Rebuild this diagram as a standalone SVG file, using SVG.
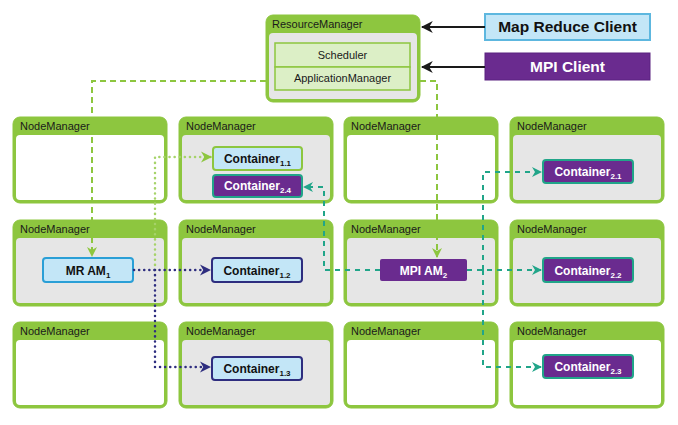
<svg xmlns="http://www.w3.org/2000/svg" width="678" height="425" viewBox="0 0 678 425">
<style>
.nm-frame{fill:#8dc63f;stroke:#8dc63f;stroke-width:1}
.body-w{fill:#ffffff}
.body-g{fill:#e6e6e6}
.title{font-family:"Liberation Sans",Arial,sans-serif;font-size:11px;fill:#1a1a1a}
.rmin{fill:#dcefc6;stroke:#8dc63f;stroke-width:1.5}
.rmtxt{font-family:"Liberation Sans",Arial,sans-serif;font-size:11px;fill:#1a1a1a;text-anchor:middle}
.ctxt{font-family:"Liberation Sans",Arial,sans-serif;font-size:12px;font-weight:bold;text-anchor:middle}
.blue{fill:#c3e6f7}
.purple{fill:#6a2b8f}
.client{font-family:"Liberation Sans",Arial,sans-serif;font-size:15.5px;font-weight:bold;text-anchor:middle}
.gdash{fill:none;stroke:#8dc63f;stroke-width:2;stroke-dasharray:6 4}
.gdot{fill:none;stroke:#a6d36a;stroke-width:2.5;stroke-dasharray:0.1 5;stroke-linecap:round}
.ndot{fill:none;stroke:#2e2d7f;stroke-width:2.5;stroke-dasharray:0.1 5;stroke-linecap:round}
.tdash{fill:none;stroke:#21a589;stroke-width:2;stroke-dasharray:5 5}
.black{fill:none;stroke:#1a1a1a;stroke-width:2}
</style>
<defs>
<marker id="mg" viewBox="0 0 10 10" refX="9" refY="5" markerWidth="5" markerHeight="5" orient="auto" markerUnits="strokeWidth"><path d="M0,0 L10,5 L0,10 L3,5 z" fill="#8dc63f"/></marker>
<marker id="mgl" viewBox="0 0 10 10" refX="9" refY="5" markerWidth="4.5" markerHeight="4.5" orient="auto" markerUnits="strokeWidth"><path d="M0,0 L10,5 L0,10 L3,5 z" fill="#8dc63f"/></marker>
<marker id="mn" viewBox="0 0 10 10" refX="9" refY="5" markerWidth="4.5" markerHeight="4.5" orient="auto" markerUnits="strokeWidth"><path d="M0,0 L10,5 L0,10 L3,5 z" fill="#2e2d7f"/></marker>
<marker id="mt" viewBox="0 0 10 10" refX="9" refY="5" markerWidth="5" markerHeight="5" orient="auto" markerUnits="strokeWidth"><path d="M0,0 L10,5 L0,10 L3,5 z" fill="#21a589"/></marker>
<marker id="mb" viewBox="0 0 10 10" refX="9" refY="5" markerWidth="6" markerHeight="6" orient="auto" markerUnits="strokeWidth"><path d="M0,0 L10,5 L0,10 L3,5 z" fill="#1a1a1a"/></marker>
</defs>

<!-- Node managers -->
<g id="nm-1-1"><rect class="nm-frame" x="13" y="117" width="154" height="86" rx="7"/><rect class="body-w" x="16" y="135" width="148" height="65" rx="4"/><text class="title" x="20" y="130">NodeManager</text></g>
<g id="nm-1-2"><rect class="nm-frame" x="179" y="117" width="154" height="86" rx="7"/><rect class="body-g" x="182" y="135" width="148" height="65" rx="4"/><text class="title" x="186" y="130">NodeManager</text></g>
<g id="nm-1-3"><rect class="nm-frame" x="344" y="117" width="154" height="86" rx="7"/><rect class="body-w" x="347" y="135" width="148" height="65" rx="4"/><text class="title" x="351" y="130">NodeManager</text></g>
<g id="nm-1-4"><rect class="nm-frame" x="510" y="117" width="154" height="86" rx="7"/><rect class="body-g" x="513" y="135" width="148" height="65" rx="4"/><text class="title" x="517" y="130">NodeManager</text></g>

<g id="nm-2-1"><rect class="nm-frame" x="13" y="220" width="154" height="86" rx="7"/><rect class="body-g" x="16" y="238" width="148" height="65" rx="4"/><text class="title" x="20" y="233">NodeManager</text></g>
<g id="nm-2-2"><rect class="nm-frame" x="179" y="220" width="154" height="86" rx="7"/><rect class="body-g" x="182" y="238" width="148" height="65" rx="4"/><text class="title" x="186" y="233">NodeManager</text></g>
<g id="nm-2-3"><rect class="nm-frame" x="344" y="220" width="154" height="86" rx="7"/><rect class="body-g" x="347" y="238" width="148" height="65" rx="4"/><text class="title" x="351" y="233">NodeManager</text></g>
<g id="nm-2-4"><rect class="nm-frame" x="510" y="220" width="154" height="86" rx="7"/><rect class="body-g" x="513" y="238" width="148" height="65" rx="4"/><text class="title" x="517" y="233">NodeManager</text></g>

<g id="nm-3-1"><rect class="nm-frame" x="13" y="322" width="154" height="86" rx="7"/><rect class="body-w" x="16" y="340" width="148" height="65" rx="4"/><text class="title" x="20" y="335">NodeManager</text></g>
<g id="nm-3-2"><rect class="nm-frame" x="179" y="322" width="154" height="86" rx="7"/><rect class="body-g" x="182" y="340" width="148" height="65" rx="4"/><text class="title" x="186" y="335">NodeManager</text></g>
<g id="nm-3-3"><rect class="nm-frame" x="344" y="322" width="154" height="86" rx="7"/><rect class="body-w" x="347" y="340" width="148" height="65" rx="4"/><text class="title" x="351" y="335">NodeManager</text></g>
<g id="nm-3-4"><rect class="nm-frame" x="510" y="322" width="154" height="86" rx="7"/><rect class="body-w" x="513" y="340" width="148" height="65" rx="4"/><text class="title" x="517" y="335">NodeManager</text></g>

<!-- Resource manager -->
<g id="resource-manager">
<rect class="nm-frame" x="266" y="15" width="154" height="87" rx="7"/>
<rect class="body-g" x="269" y="33" width="148" height="66" rx="4"/>
<text class="title" x="272" y="28">ResourceManager</text>
<rect class="rmin" x="275" y="43" width="135" height="24"/>
<text class="rmtxt" x="342.5" y="59">Scheduler</text>
<rect class="rmin" x="275" y="67" width="135" height="23"/>
<text class="rmtxt" x="342.5" y="82">ApplicationManager</text>
</g>

<!-- Clients -->
<g id="mr-client"><rect x="485" y="14" width="165" height="26" fill="#c3e6f7" stroke="#5db7df" stroke-width="2"/><text class="client" x="567.5" y="32" fill="#111">Map Reduce Client</text></g>
<g id="mpi-client"><rect x="485" y="53" width="165" height="27" fill="#6a2b8f" stroke="#5a2380" stroke-width="1"/><text class="client" x="567.5" y="72" fill="#ffffff">MPI Client</text></g>

<!-- Containers -->
<g id="mr-am1"><rect class="blue" x="43" y="258" width="90" height="24" rx="3" stroke="#2a9fd6" stroke-width="2"/><text class="ctxt" x="88" y="275" fill="#111">MR AM<tspan font-size="8" dy="3">1</tspan></text></g>
<g id="c1-1"><rect class="blue" x="213" y="147" width="89" height="23" rx="3" stroke="#8dc63f" stroke-width="2"/><text class="ctxt" x="257.5" y="163" fill="#111">Container<tspan font-size="8" dy="3">1.1</tspan></text></g>
<g id="c2-4"><rect class="purple" x="213" y="175" width="89" height="22" rx="3" stroke="#21a589" stroke-width="2"/><text class="ctxt" x="257.5" y="190" fill="#fff">Container<tspan font-size="8" dy="3">2.4</tspan></text></g>
<g id="c2-1"><rect class="purple" x="543" y="160" width="90" height="23" rx="3" stroke="#21a589" stroke-width="2"/><text class="ctxt" x="588" y="176" fill="#fff">Container<tspan font-size="8" dy="3">2.1</tspan></text></g>
<g id="c1-2"><rect class="blue" x="212" y="258" width="90" height="24" rx="3" stroke="#2e2d7f" stroke-width="2"/><text class="ctxt" x="257" y="275" fill="#111">Container<tspan font-size="8" dy="3">1.2</tspan></text></g>
<g id="mpi-am2"><rect class="purple" x="380" y="259" width="87" height="22" rx="2"/><text class="ctxt" x="423.5" y="275" fill="#fff">MPI AM<tspan font-size="8" dy="3">2</tspan></text></g>
<g id="c2-2"><rect class="purple" x="543" y="258" width="90" height="24" rx="3" stroke="#21a589" stroke-width="2"/><text class="ctxt" x="588" y="275" fill="#fff">Container<tspan font-size="8" dy="3">2.2</tspan></text></g>
<g id="c1-3"><rect class="blue" x="212" y="357" width="90" height="23" rx="3" stroke="#2e2d7f" stroke-width="2"/><text class="ctxt" x="257" y="373" fill="#111">Container<tspan font-size="8" dy="3">1.3</tspan></text></g>
<g id="c2-3"><rect class="purple" x="543" y="355" width="90" height="23" rx="3" stroke="#21a589" stroke-width="2"/><text class="ctxt" x="588" y="371" fill="#fff">Container<tspan font-size="8" dy="3">2.3</tspan></text></g>

<!-- Connectors -->
<g id="connectors">
<path class="black" d="M485,27 L422,27" marker-end="url(#mb)"/>
<path class="black" d="M485,67 L422,67" marker-end="url(#mb)"/>
<path class="gdash" d="M266,81 L92,81 L92,256" marker-end="url(#mg)"/>
<path class="gdash" d="M420,81 L437,81 L437,257" marker-end="url(#mg)"/>
<path class="gdot" d="M155,270 L155,157 L211,157" marker-end="url(#mgl)"/>
<path class="ndot" d="M134,270 L210,270" marker-end="url(#mn)"/>
<path class="ndot" d="M155,270 L155,367 L210,367" marker-end="url(#mn)"/>
<path class="tdash" d="M380,270 L324,270 L324,187 L304,187" marker-end="url(#mt)"/>
<path class="tdash" d="M467,270 L541,270" marker-end="url(#mt)"/>
<path class="tdash" d="M483,270 L483,172 L541,172" marker-end="url(#mt)"/>
<path class="tdash" d="M483,270 L483,367 L541,367" marker-end="url(#mt)"/>
</g>
</svg>
